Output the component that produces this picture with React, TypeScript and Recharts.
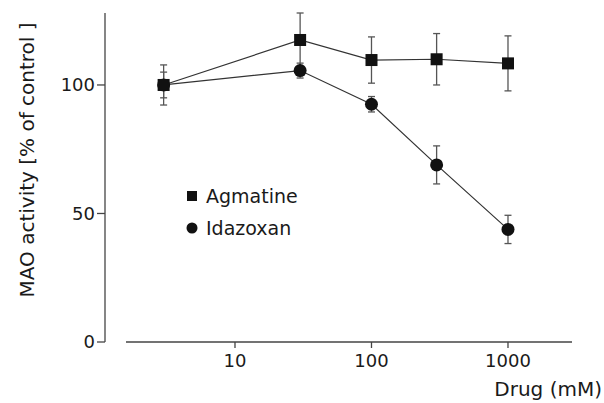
import React from 'react';
import {
  ComposedChart,
  Line,
  XAxis,
  YAxis,
  ErrorBar,
  ReferenceLine,
  Legend,
} from 'recharts';

const doses = [3, 30, 100, 300, 1000];
const agmatine = [100, 117.5, 109.7, 110, 108.4];
const agmatineErr = [7.8, 10.5, 9, 10, 10.7];
const idazoxan = [100, 105.6, 92.5, 68.9, 43.8];
const idazoxanErr = [5, 2.9, 3, 7.4, 5.5];

const xTicks = [10, 100, 1000];
const yTicks = [0, 50, 100];

const agmatineData = doses.map((dose, i) => ({ dose, value: agmatine[i], err: agmatineErr[i] }));
const idazoxanData = doses.map((dose, i) => ({ dose, value: idazoxan[i], err: idazoxanErr[i] }));

const FONT = '"DejaVu Sans", Verdana, sans-serif';
const INK = '#1a1a1a';
const AXIS = '#444';

const SquareDot = (props: any) => {
  const { cx, cy } = props;
  if (cx == null || cy == null) return null;
  return <rect x={cx - 6} y={cy - 6} width={12} height={12} fill="#111" />;
};

const CircleDot = (props: any) => {
  const { cx, cy } = props;
  if (cx == null || cy == null) return null;
  return <circle cx={cx} cy={cy} r={6.5} fill="#111" />;
};

const LegendBox = () => (
  <div style={{ fontFamily: FONT, fontSize: 19, color: INK, lineHeight: '32px' }}>
    <div style={{ display: 'flex', alignItems: 'center' }}>
      <svg width={20} height={12}>
        <rect x={1} y={1} width={10} height={10} fill="#111" />
      </svg>
      <span>Agmatine</span>
    </div>
    <div style={{ display: 'flex', alignItems: 'center' }}>
      <svg width={20} height={12}>
        <circle cx={6} cy={6} r={5.5} fill="#111" />
      </svg>
      <span>Idazoxan</span>
    </div>
  </div>
);

export default function App() {
  return (
    <div style={{ position: 'absolute', left: 0, top: 0, width: 604, height: 403, background: '#fff' }}>
      <ComposedChart width={604} height={403} margin={{ top: 13, right: 32, bottom: 21, left: 45 }}>
        <XAxis
          type="number"
          dataKey="dose"
          scale="log"
          domain={[1.116, 2944]}
          allowDataOverflow
          ticks={xTicks}
          axisLine={false}
          tickLine={{ stroke: AXIS, strokeWidth: 1.3 }}
          tickSize={6}
          tickMargin={6}
          height={40}
          tick={{ fill: INK, fontSize: 18, fontFamily: FONT }}
          label={{
            content: () => (
              <text x={602} y={396} textAnchor="end" fill={INK} fontSize={20} fontFamily={FONT}>
                Drug (mM)
              </text>
            ),
          }}
        />
        <YAxis
          type="number"
          domain={[0, 128]}
          ticks={yTicks}
          width={60}
          axisLine={{ stroke: AXIS, strokeWidth: 1.3 }}
          tickLine={{ stroke: AXIS, strokeWidth: 1.3 }}
          tickSize={8}
          tickMargin={2}
          tick={{ fill: INK, fontSize: 18, fontFamily: FONT }}
          label={{
            content: () => (
              <text
                x={34}
                y={160}
                transform="rotate(-90, 34, 160)"
                textAnchor="middle"
                fill={INK}
                fontSize={20}
                fontFamily={FONT}
              >
                MAO activity [% of control ]
              </text>
            ),
          }}
        />
        <ReferenceLine
          segment={[{ x: 1.59, y: 0 }, { x: 2944, y: 0 }]}
          stroke={AXIS}
          strokeWidth={1.3}
          ifOverflow="visible"
        />
        <Legend
          layout="vertical"
          align="center"
          verticalAlign="middle"
          content={<LegendBox />}
          wrapperStyle={{ left: 186, top: 180, width: 140 }}
        />
        <Line
          data={agmatineData}
          dataKey="value"
          name="Agmatine"
          type="linear"
          stroke="#333"
          strokeWidth={1.2}
          dot={<SquareDot />}
          activeDot={false}
          isAnimationActive={false}
        >
          <ErrorBar dataKey="err" direction="y" width={3.5} stroke="#555" strokeWidth={1.3} />
        </Line>
        <Line
          data={idazoxanData}
          dataKey="value"
          name="Idazoxan"
          type="linear"
          stroke="#333"
          strokeWidth={1.2}
          dot={<CircleDot />}
          activeDot={false}
          isAnimationActive={false}
        >
          <ErrorBar dataKey="err" direction="y" width={3.5} stroke="#555" strokeWidth={1.3} />
        </Line>
      </ComposedChart>
    </div>
  );
}
